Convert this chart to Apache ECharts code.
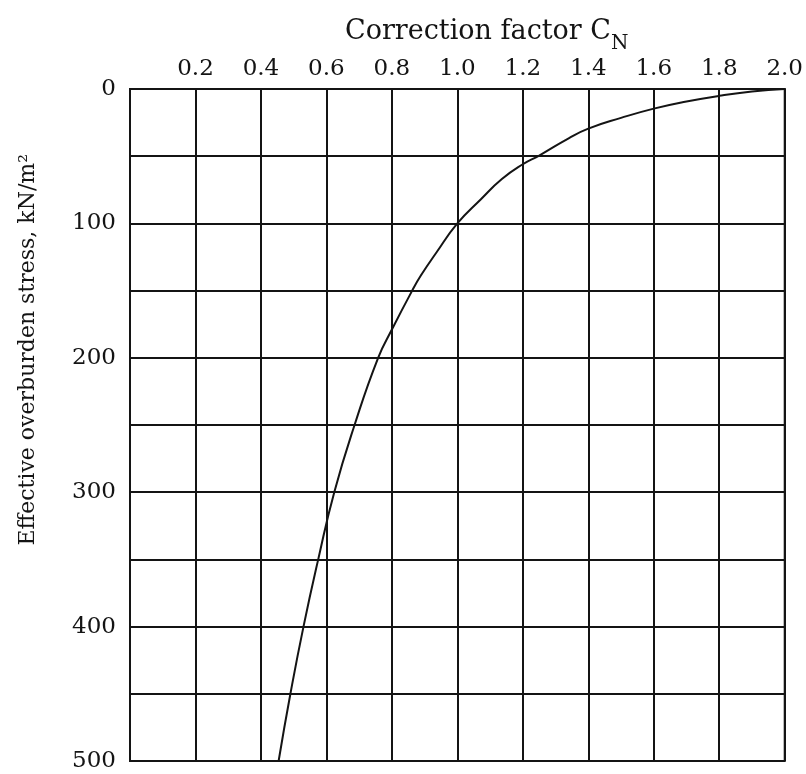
<!DOCTYPE html>
<html>
<head>
<meta charset="utf-8">
<script src="https://cdn.jsdelivr.net/npm/echarts@6/dist/echarts.min.js"></script>
<style>
html,body{margin:0;padding:0;background:#fff;}
#chart{width:806px;height:774px;}
</style>
</head>
<body>
<div id="chart"></div>
<script>
// Curve: correction factor C_N vs effective overburden stress (kN/m2)
var correctionFactor = [2.0, 1.9, 1.8, 1.7, 1.6, 1.50, 1.40, 1.34, 1.25, 1.20, 1.136, 1.072, 1.0, 0.935, 0.888, 0.862, 0.80, 0.758, 0.686, 0.624, 0.575, 0.530, 0.490, 0.454];
var overburdenStress = [0, 1.9, 5.1, 9.3, 14.6, 21.5, 29.5, 36.7, 49.5, 56, 67, 82, 100, 122, 139, 150, 179, 200, 250, 300, 350, 400, 450, 500];
var xTickValues = [0.2, 0.4, 0.6, 0.8, 1.0, 1.2, 1.4, 1.6, 1.8, 2.0];
var yTickLabels = [0, 100, 200, 300, 400, 500];

var FONT = 'DejaVu Serif';
var INK = '#141414';

var curve = correctionFactor.map(function (c, i) { return [c, overburdenStress[i]]; });

var chart = echarts.init(document.getElementById('chart'));
chart.setOption({
  backgroundColor: '#fff',
  animation: false,
  title: {
    text: '{a|Correction factor C}{b|N}',
    left: 340,
    top: 4,
    textStyle: {
      fontWeight: 'normal',
      rich: {
        a: { fontFamily: FONT, fontSize: 27, fontWeight: 'normal', color: INK, verticalAlign: 'bottom', lineHeight: 36 },
        b: { fontFamily: FONT, fontSize: 20, fontWeight: 'normal', color: INK, verticalAlign: 'bottom', padding: [0, 0, -9, 0], lineHeight: 36 }
      }
    }
  },
  graphic: [{
    type: 'text',
    left: 17,
    top: 154,
    rotation: Math.PI / 2,
    style: {
      text: 'Effective overburden stress, kN/m\u00B2',
      font: '22px "DejaVu Serif"',
      fill: INK
    }
  }],
  grid: {
    left: 130, right: 20, top: 89, bottom: 13,
    show: true, borderColor: INK, borderWidth: 2, backgroundColor: 'transparent'
  },
  xAxis: {
    type: 'value',
    position: 'top',
    min: 0, max: 2.0, interval: 0.2,
    axisLine: { show: true, lineStyle: { color: INK, width: 2 } },
    axisTick: { show: false },
    splitLine: { show: true, lineStyle: { color: INK, width: 2 } },
    axisLabel: {
      fontFamily: FONT, fontSize: 23, color: INK, margin: 8,
      formatter: function (v) {
        var r = Math.round(v * 10) / 10;
        return xTickValues.indexOf(r) >= 0 ? r.toFixed(1) : '';
      }
    }
  },
  yAxis: {
    type: 'value',
    inverse: true,
    min: 0, max: 500, interval: 50,
    axisLine: { show: true, lineStyle: { color: INK, width: 2 } },
    axisTick: { show: false },
    splitLine: { show: true, lineStyle: { color: INK, width: 2 } },
    axisLabel: {
      fontFamily: FONT, fontSize: 23, color: INK, margin: 14,
      formatter: function (v) {
        return yTickLabels.indexOf(v) >= 0 ? String(v) : '';
      }
    }
  },
  series: [{
    type: 'line',
    data: curve,
    smooth: 0.5,
    showSymbol: false,
    lineStyle: { color: INK, width: 2 },
    z: 5
  }]
});
</script>
</body>
</html>
